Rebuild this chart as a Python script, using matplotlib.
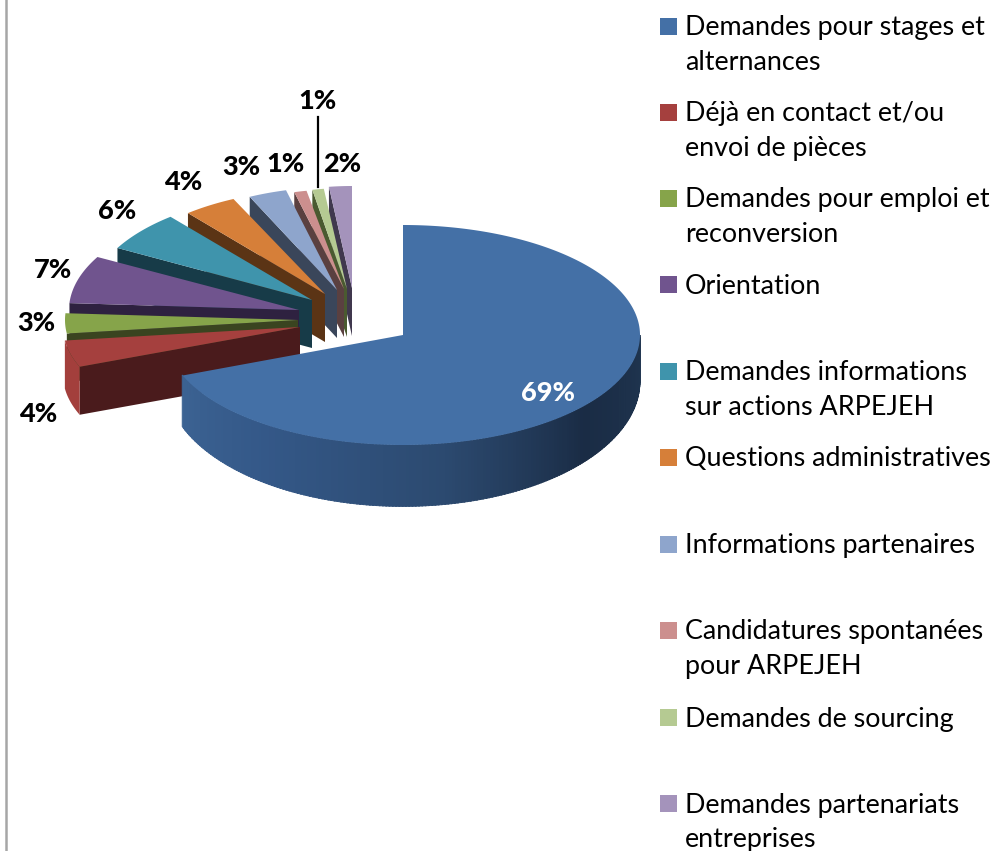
import numpy as np
import matplotlib.pyplot as plt

labels = ["Demandes pour stages et\nalternances", "Déjà en contact et/ou\nenvoi de pièces",
          "Demandes pour emploi et\nreconversion", "Orientation",
          "Demandes informations\nsur actions ARPEJEH", "Questions administratives",
          "Informations partenaires", "Candidatures spontanées\npour ARPEJEH",
          "Demandes de sourcing", "Demandes partenariats\nentreprises"]
values = [69, 4, 3, 7, 6, 4, 3, 1, 1, 2]
pct_labels = ["69%", "4%", "3%", "7%", "6%", "4%", "3%", "1%", "1%", "2%"]

top_colors = ["#4470a6", "#a5403e", "#86a44a", "#70548e", "#3f94ac",
              "#d67f39", "#8ea5cc", "#cc8f8e", "#b5ca92", "#a493bb"]
side_colors = ["#2c4a70", "#4a1b1c", "#3a4420", "#2e2140", "#173b48",
               "#5b3415", "#3a465a", "#5a4040", "#4a5a30", "#40384e"]
arc_colors = ["#2c4a70", "#a33f3c", "#7f9a45", "#2e2140", "#173b48",
              "#5b3415", "#3a465a", "#5a4040", "#4a5a30", "#40384e"]

# slice centres and radii in picture pixels (the pie is exploded and squashed)
centers = [(403, 335), (300, 327), (298, 320), (299, 310), (312, 300),
           (325, 294), (337, 290), (344, 289), (347, 289), (352, 288)]
radii = [(237, 110), (237, 108), (233, 108), (230, 110), (222, 108),
         (215, 105), (205, 103), (200, 100), (185, 101), (184, 102)]

pct_pos = [(548, 393), (38, 414), (36, 323), (53, 270), (117, 211),
           (183, 182), (241, 167), (285, 164), (317, 101), (342, 164)]
legend_y = [26, 112, 198, 284, 371, 457, 544, 630, 717, 803]

fig = plt.figure(figsize=(9.96, 8.51), dpi=100)
ax = fig.add_axes([0, 0, 1, 1])
ax.set_xlim(0, 996)
ax.set_ylim(851, 0)
ax.axis("off")

ax.plot([6, 6], [0, 851], color="#a6a6a6", lw=1.8)


def arc(c, r, a0, a1, n=80):
    # angles in degrees, clockwise from 12 o'clock
    t = np.radians(np.linspace(a0, a1, n))
    return c[0] + r[0] * np.sin(t), c[1] - r[1] * np.cos(t)


def blue_depth(y):
    return 46 + 0.14 * (y - 335)


edges = np.cumsum([0] + values) * 3.6

# back slices first, so the nearer ones cover them
for i in range(len(values) - 1, 0, -1):
    c, r = centers[i], radii[i]
    depth = 48
    a0, a1 = edges[i], edges[i + 1]
    # cut face
    x0, y0 = arc(c, r, a0, a0, 1)
    ax.fill([c[0], x0[0], x0[0], c[0]], [c[1], y0[0], y0[0] + depth, c[1] + depth],
            color=side_colors[i], lw=0)
    # outer wall, only where it faces the viewer
    if a1 <= 270:
        x, y = arc(c, r, a0, a1)
        ax.fill(np.r_[x, x[::-1]], np.r_[y, y[::-1] + depth], color=arc_colors[i], lw=0)
    x, y = arc(c, r, a0, a1)
    ax.fill(np.r_[c[0], x], np.r_[c[1], y], color=top_colors[i], lw=0)

# big slice, wall shaded in strips
c, r = centers[0], radii[0]
stops = [90, 130, 170, 215, 249]
shades = [np.array(plt.matplotlib.colors.to_rgb(s))
          for s in ["#1f3550", "#1a2c45", "#2c4a70", "#345888", "#3c6393"]]
ang = np.linspace(90, edges[1], 200)
for a, b in zip(ang[:-1], ang[1:]):
    x, y = arc(c, r, a, b + 0.3, 4)
    col = [np.interp(a, stops, [s[k] for s in shades]) for k in range(3)]
    ax.fill(np.r_[x, x[::-1]], np.r_[y, y[::-1] + blue_depth(y[::-1])],
            facecolor=col, edgecolor=col, lw=0.6)
x, y = arc(c, r, edges[0], edges[1], 300)
ax.fill(np.r_[c[0], x], np.r_[c[1], y], color=top_colors[0], lw=0)

# leader line of the sourcing label
ax.plot([318, 318], [117, 187], color="black", lw=1.6)

font = "Lato"
for i, t in enumerate(pct_labels):
    ax.text(pct_pos[i][0], pct_pos[i][1], t, ha="center", va="center", family=font,
            fontsize=19.5, fontweight="black", color="white" if i == 0 else "black")

for i, lab in enumerate(labels):
    y = legend_y[i]
    ax.fill([660, 677, 677, 660], [y - 8.5, y - 8.5, y + 8.5, y + 8.5], color=top_colors[i], lw=0)
    for k, line in enumerate(lab.split("\n")):
        ax.text(685, y + 2 + k * 34.7, line, ha="left", va="center", family=font,
                fontsize=19.4, color="black")

fig.savefig("out.png", dpi=100)
